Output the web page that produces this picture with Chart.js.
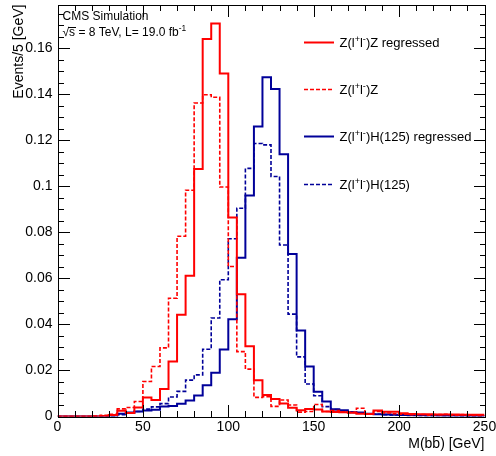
<!DOCTYPE html>
<html>
<head>
<meta charset="utf-8">
<script src="https://cdn.jsdelivr.net/npm/chart.js@4.4.1/dist/chart.umd.min.js"></script>
<style>
  html, body { margin: 0; padding: 0; background: #fff; }
  #wrap { width: 496px; height: 456px; }
</style>
</head>
<body>
<div id="wrap"><canvas id="c" width="496" height="456"></canvas></div>
<script>
/* M(bb) for ZZ / ZH(125), with and without regression — 5 GeV bins from 0 to 250 */

const BIN_WIDTH = 5;

// Z(l+l-)Z regressed (red, solid)
const ZZ_REG = [
  0, 0, 0, 0, 0, 0.0002, 0.0006, 0.0025, 0.0015, 0.0039,
  0.0083, 0.0072, 0.0120, 0.0239, 0.0442, 0.0612, 0.1075, 0.1640, 0.1707, 0.1490,
  0.0865, 0.0531, 0.0305, 0.0157, 0.0093, 0.0076, 0.0056, 0.0038, 0.0027, 0.0033,
  0.0030, 0.0022, 0.0020, 0.0018, 0.0016, 0.0012, 0.0011, 0.0026, 0.0021, 0.0021,
  0.0014, 0.0011, 0.0010, 0.0010, 0.0009, 0.0009, 0.0009, 0.0008, 0.0008, 0.0008,
];
// Z(l+l-)Z (red, dashed)
const ZZ = [
  0, 0, 0, 0, 0.0002, 0.0005, 0.0010, 0.0033, 0.0039, 0.0065,
  0.0152, 0.0217, 0.0298, 0.0514, 0.0783, 0.0983, 0.1362, 0.1398, 0.1387, 0.0997,
  0.0652, 0.0282, 0.0206, 0.0083, 0.0086, 0.0044, 0.0072, 0.0050, 0.0019, 0.0022,
  0.0052, 0.0022, 0.0026, 0.0020, 0.0018, 0.0036, 0.0012, 0.0022, 0.0015, 0.0012,
  0.0010, 0.0008, 0.0009, 0.0006, 0.0008, 0.0010, 0.0006, 0.0008, 0.0005, 0.0004,
];
// Z(l+l-)H(125) regressed (blue, solid)
const ZH_REG = [
  0, 0, 0, 0, 0, 0, 0.0003, 0.0012, 0.0017, 0.0022,
  0.0026, 0.0029, 0.0043, 0.0046, 0.0055, 0.0070, 0.0091, 0.0136, 0.0190, 0.0291,
  0.0423, 0.0690, 0.0960, 0.1260, 0.1474, 0.1423, 0.1139, 0.0706, 0.0374, 0.0217,
  0.0108, 0.0065, 0.0032, 0.0027, 0.0019, 0.0017, 0.0012, 0.0010, 0.0009, 0.0008,
  0.0006, 0.0005, 0.0005, 0.0004, 0.0004, 0.0003, 0.0003, 0.0003, 0.0002, 0.0002,
];
// Z(l+l-)H(125) (blue, dashed)
const ZH = [
  0, 0, 0, 0, 0, 0, 0.0002, 0.0008, 0.0015, 0.0022,
  0.0032, 0.0042, 0.0056, 0.0085, 0.0109, 0.0158, 0.0181, 0.0292, 0.0428, 0.0594,
  0.0772, 0.0905, 0.1078, 0.1186, 0.1180, 0.1043, 0.0745, 0.0445, 0.0259, 0.0141,
  0.0090, 0.0043, 0.0030, 0.0025, 0.0020, 0.0014, 0.0012, 0.0010, 0.0008, 0.0007,
  0.0006, 0.0005, 0.0004, 0.0004, 0.0003, 0.0003, 0.0003, 0.0002, 0.0002, 0.0002,
];

const SERIES_LABELS = [
  "Z(l^{+}l^{-})Z regressed",
  "Z(l^{+}l^{-})Z",
  "Z(l^{+}l^{-})H(125) regressed",
  "Z(l^{+}l^{-})H(125)",
];

const X_TICKS = [0, 50, 100, 150, 200, 250];
const Y_TICKS = [0, 0.02, 0.04, 0.06, 0.08, 0.1, 0.12, 0.14, 0.16];
const X_MINOR_STEP = 10;
const Y_MINOR_STEP = 0.005;
const X_MAX = 250;
const Y_MAX = 0.179;

const FONT = '"Liberation Sans", Arial, Helvetica, sans-serif';
const RED = "#ff0000";
const BLUE = "#000099";

// histogram -> step points (left edge of each bin + closing right edge)
function toSteps(vals) {
  const pts = vals.map((v, i) => ({ x: i * BIN_WIDTH, y: v }));
  pts.push({ x: vals.length * BIN_WIDTH, y: vals[vals.length - 1] });
  return pts;
}

function hist(label, vals, color, dashed) {
  return {
    label, data: toSteps(vals), borderColor: color,
    borderWidth: dashed ? 1.6 : 2, borderDash: dashed ? [4, 2] : [],
    stepped: true, pointRadius: 0, fill: false, tension: 0,
  };
}

// text with ^{...} superscripts
function richParts(s) {
  return s.split(/(\^\{[^}]*\})/).filter(Boolean).map((p) =>
    p.startsWith("^{") ? { t: p.slice(2, -1), sup: true } : { t: p, sup: false });
}
function drawRich(ctx, s, x, y, size) {
  for (const p of richParts(s)) {
    ctx.font = `${p.sup ? size * 0.7 : size}px ${FONT}`;
    ctx.fillText(p.t, x, p.sup ? y - size * 0.42 : y);
    x += ctx.measureText(p.t).width;
  }
  return x;
}

const rootStyle = {
  id: "rootStyle",
  afterDraw(chart) {
    const { ctx, chartArea: a, scales: { x, y } } = chart;
    const L = Math.round(a.left), R = Math.round(a.right);
    const T = Math.round(a.top), B = Math.round(a.bottom);
    ctx.save();
    ctx.setLineDash([]);
    ctx.fillStyle = "#000";

    // frame
    ctx.fillRect(L, T, R - L + 1, 1);
    ctx.fillRect(L, B, R - L + 1, 1);
    ctx.fillRect(L, T, 1, B - T + 1);
    ctx.fillRect(R, T, 1, B - T + 1);

    // ticks inside the frame, on all four sides
    for (let v = 0; v <= X_MAX + 1e-9; v += X_MINOR_STEP) {
      const len = X_TICKS.includes(v) ? 12 : 6;
      const p = Math.round(x.getPixelForValue(v));
      ctx.fillRect(p, B - len, 1, len);
      ctx.fillRect(p, T, 1, len);
    }
    for (let k = 0; k * Y_MINOR_STEP <= Y_MAX; k++) {
      const v = +(k * Y_MINOR_STEP).toFixed(3);
      const len = Y_TICKS.includes(v) ? 12 : 6;
      const p = Math.round(y.getPixelForValue(v));
      ctx.fillRect(L, p, len, 1);
      ctx.fillRect(R - len + 1, p, len, 1);
    }

    // header
    ctx.textBaseline = "alphabetic";
    ctx.textAlign = "left";
    ctx.font = `12px ${FONT}`;
    ctx.fillText("CMS Simulation", 62.5, 20);
    let tx = 62.5;
    ctx.fillText("\u221A", tx, 36);
    tx += ctx.measureText("\u221A").width;
    const sw = ctx.measureText("s").width;
    ctx.fillText("s", tx, 36);
    ctx.fillRect(Math.round(tx - 1), 27, Math.round(sw + 1.5), 1);
    tx += sw;
    drawRich(ctx, " = 8 TeV, L= 19.0 fb^{-1}", tx, 36, 12);

    // legend
    const rowsY = [41.5, 88.5, 136, 183.5];
    chart.data.datasets.forEach((d, i) => {
      const yy = Math.round(rowsY[i]) + 0.5;
      ctx.strokeStyle = d.borderColor;
      ctx.lineWidth = d.borderWidth;
      ctx.setLineDash(d.borderDash);
      ctx.beginPath();
      ctx.moveTo(304, yy); ctx.lineTo(334, yy);
      ctx.stroke();
      ctx.fillStyle = "#000";
      drawRich(ctx, SERIES_LABELS[i], 339.5, yy + 4.8, 13);
    });
    ctx.setLineDash([]);

    // x title, right aligned, with bar over the second b
    ctx.font = `14px ${FONT}`;
    ctx.fillStyle = "#000";
    const p1 = "M(b", p2 = "b", p3 = ") [GeV]";
    const w1 = ctx.measureText(p1).width, w2 = ctx.measureText(p2).width, w3 = ctx.measureText(p3).width;
    const xx = a.right - (w1 + w2 + w3);
    const base = 448;
    ctx.fillText(p1, xx, base);
    ctx.fillText(p2, xx + w1, base);
    ctx.fillRect(Math.round(xx + w1 + 0.5), base - 12, Math.round(w2 - 1), 1);
    ctx.fillText(p3, xx + w1 + w2, base);

    ctx.restore();
  },
};

new Chart(document.getElementById("c"), {
  type: "line",
  data: {
    datasets: [
      hist(SERIES_LABELS[0], ZZ_REG, RED, false),
      hist(SERIES_LABELS[1], ZZ, RED, true),
      hist(SERIES_LABELS[2], ZH_REG, BLUE, false),
      hist(SERIES_LABELS[3], ZH, BLUE, true),
    ],
  },
  options: {
    responsive: false,
    animation: false,
    devicePixelRatio: 1,
    layout: { padding: { left: 0, right: 11.5, top: 4.5, bottom: 0 } },
    plugins: { legend: { display: false }, tooltip: { enabled: false } },
    scales: {
      x: {
        type: "linear", min: 0, max: X_MAX,
        grid: { display: false, drawTicks: false }, border: { display: false },
        afterBuildTicks: (s) => { s.ticks = X_TICKS.map((v) => ({ value: v })); },
        afterFit: (s) => { s.height = 39.5; s.paddingLeft = 0; s.paddingRight = 0; },
        ticks: {
          color: "#000", font: { family: FONT, size: 14 }, padding: 2,
          autoSkip: false, maxRotation: 0, callback: (v) => String(v),
        },
      },
      y: {
        type: "linear", min: 0, max: Y_MAX,
        grid: { display: false, drawTicks: false }, border: { display: false },
        afterBuildTicks: (s) => { s.ticks = Y_TICKS.map((v) => ({ value: v })); },
        afterFit: (s) => { s.width = 57.5; s.paddingTop = 0; s.paddingBottom = 0; },
        ticks: {
          color: "#000", font: { family: FONT, size: 14 }, padding: 5,
          autoSkip: false, callback: (v) => String(+v.toFixed(2)),
        },
        title: {
          display: true, text: "Events/5 [GeV]", align: "end", color: "#000",
          font: { family: FONT, size: 14 }, padding: { top: 11, bottom: 0 },
        },
      },
    },
  },
  plugins: [rootStyle],
});
</script>
</body>
</html>
